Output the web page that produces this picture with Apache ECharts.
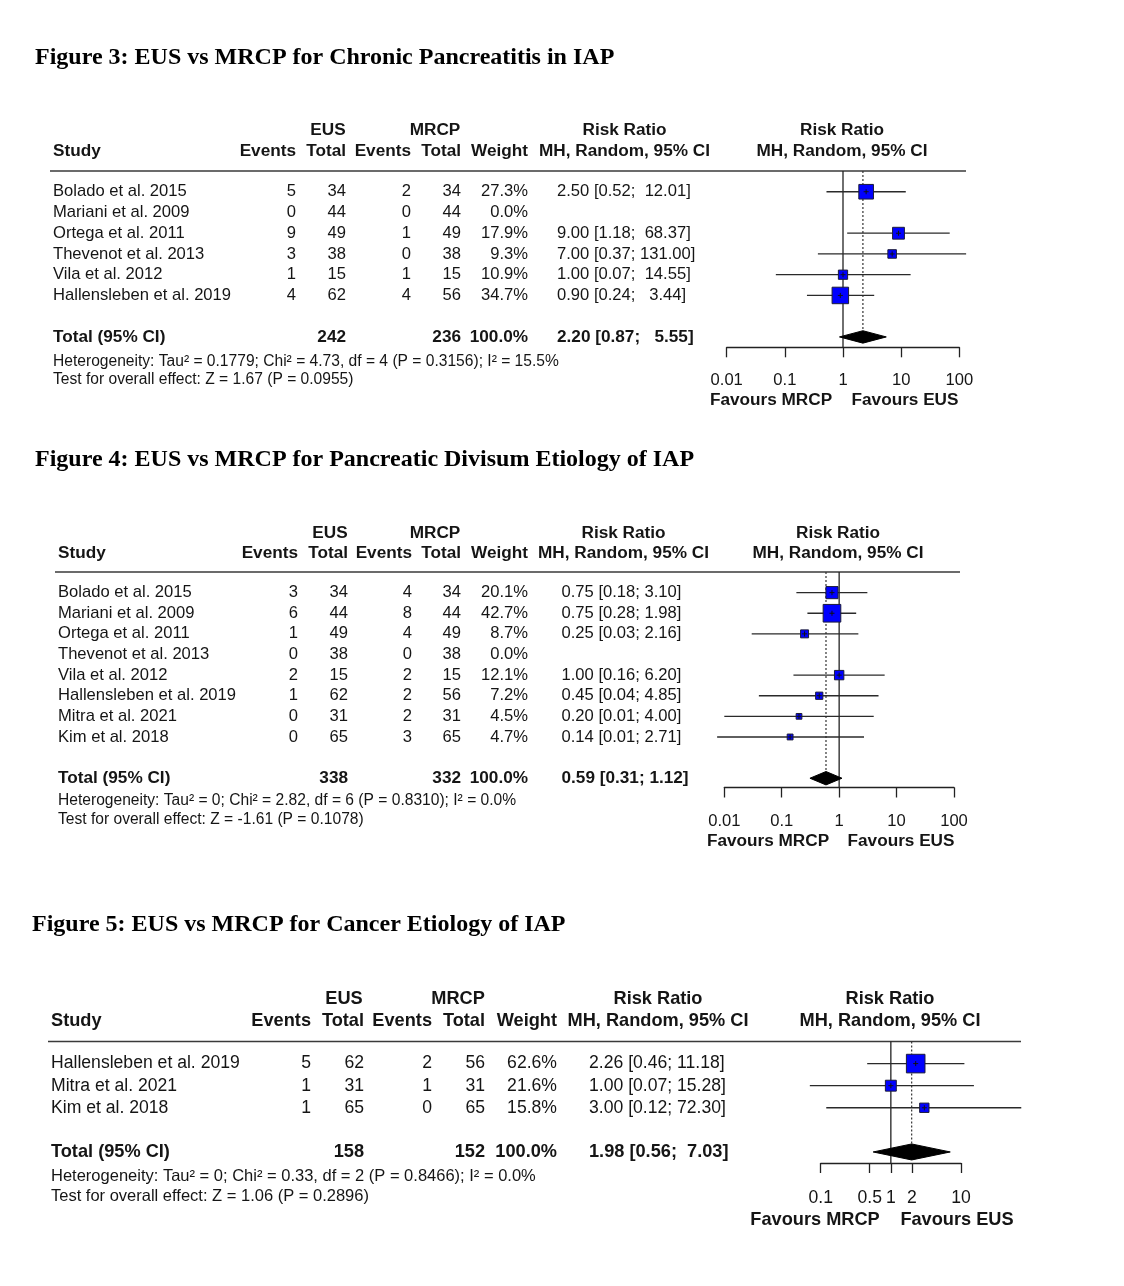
<!DOCTYPE html>
<html><head><meta charset="utf-8">
<script src="https://cdn.jsdelivr.net/npm/echarts@6/dist/echarts.min.js"></script>
<style>html,body{margin:0;padding:0;background:#fff}#c{width:1124px;height:1286px}</style>
</head><body><div id="c"></div>
<script>
// ---------------- DATA ----------------
const TITLES = [
  'Figure 3: EUS vs MRCP for Chronic Pancreatitis in IAP',
  'Figure 4: EUS vs MRCP for Pancreatic Divisum Etiology of IAP',
  'Figure 5: EUS vs MRCP for Cancer Etiology of IAP'
];
const GROUP_HEADERS = ['EUS', 'MRCP', 'Risk Ratio'];
const COL_HEADERS = ['Events', 'Total', 'Events', 'Total', 'Weight'];
const STUDY_HEADER = 'Study';
const RR_HEADER = 'MH, Random, 95% CI';
const FOREST_HEADER = ['Risk Ratio', 'MH, Random, 95% CI'];
const FAVOURS = ['Favours MRCP', 'Favours EUS'];
const TOTAL_LABEL = 'Total (95% CI)';

// Figure 3
const f3Studies = ['Bolado et al. 2015', 'Mariani et al. 2009', 'Ortega et al. 2011', 'Thevenot et al. 2013', 'Vila et al. 2012', 'Hallensleben et al. 2019'];
const f3EusEvents = [5, 0, 9, 3, 1, 4];
const f3EusTotal = [34, 44, 49, 38, 15, 62];
const f3MrcpEvents = [2, 0, 1, 0, 1, 4];
const f3MrcpTotal = [34, 44, 49, 38, 15, 56];
const f3Weight = [27.3, 0.0, 17.9, 9.3, 10.9, 34.7];
const f3RR = [2.50, null, 9.00, 7.00, 1.00, 0.90];
const f3Lower = [0.52, null, 1.18, 0.37, 0.07, 0.24];
const f3Upper = [12.01, null, 68.37, 131.00, 14.55, 3.44];
const f3Pooled = [2.20, 0.87, 5.55];
const f3Totals = [242, 236];
const f3TotalWeight = 100.0;
const f3Het = 'Heterogeneity: Tau² = 0.1779; Chi² = 4.73, df = 4 (P = 0.3156); I² = 15.5%';
const f3Test = 'Test for overall effect: Z = 1.67 (P = 0.0955)';
const f3Ticks = [0.01, 0.1, 1, 10, 100];

// Figure 4
const f4Studies = ['Bolado et al. 2015', 'Mariani et al. 2009', 'Ortega et al. 2011', 'Thevenot et al. 2013', 'Vila et al. 2012', 'Hallensleben et al. 2019', 'Mitra et al. 2021', 'Kim et al. 2018'];
const f4EusEvents = [3, 6, 1, 0, 2, 1, 0, 0];
const f4EusTotal = [34, 44, 49, 38, 15, 62, 31, 65];
const f4MrcpEvents = [4, 8, 4, 0, 2, 2, 2, 3];
const f4MrcpTotal = [34, 44, 49, 38, 15, 56, 31, 65];
const f4Weight = [20.1, 42.7, 8.7, 0.0, 12.1, 7.2, 4.5, 4.7];
const f4RR = [0.75, 0.75, 0.25, null, 1.00, 0.45, 0.20, 0.14];
const f4Lower = [0.18, 0.28, 0.03, null, 0.16, 0.04, 0.01, 0.0075];
const f4Upper = [3.10, 1.98, 2.16, null, 6.20, 4.85, 4.00, 2.71];
const f4Pooled = [0.59, 0.31, 1.12];
const f4Totals = [338, 332];
const f4TotalWeight = 100.0;
const f4Het = 'Heterogeneity: Tau² = 0; Chi² = 2.82, df = 6 (P = 0.8310); I² = 0.0%';
const f4Test = 'Test for overall effect: Z = -1.61 (P = 0.1078)';
const f4Ticks = [0.01, 0.1, 1, 10, 100];

// Figure 5
const f5Studies = ['Hallensleben et al. 2019', 'Mitra et al. 2021', 'Kim et al. 2018'];
const f5EusEvents = [5, 1, 1];
const f5EusTotal = [62, 31, 65];
const f5MrcpEvents = [2, 1, 0];
const f5MrcpTotal = [56, 31, 65];
const f5Weight = [62.6, 21.6, 15.8];
const f5RR = [2.26, 1.00, 3.00];
const f5Lower = [0.46, 0.07, 0.12];
const f5Upper = [11.18, 15.28, 72.30];
const f5Pooled = [1.98, 0.56, 7.03];
const f5Totals = [158, 152];
const f5TotalWeight = 100.0;
const f5Het = 'Heterogeneity: Tau² = 0; Chi² = 0.33, df = 2 (P = 0.8466); I² = 0.0%';
const f5Test = 'Test for overall effect: Z = 1.06 (P = 0.2896)';
const f5Ticks = [0.1, 0.5, 1, 2, 10];

const FIGS = [
  {studies: f3Studies, ee: f3EusEvents, et: f3EusTotal, me: f3MrcpEvents, mt: f3MrcpTotal, w: f3Weight, rr: f3RR, lo: f3Lower, hi: f3Upper, pooled: f3Pooled, totals: f3Totals, tw: f3TotalWeight, het: f3Het, test: f3Test, ticks: f3Ticks},
  {studies: f4Studies, ee: f4EusEvents, et: f4EusTotal, me: f4MrcpEvents, mt: f4MrcpTotal, w: f4Weight, rr: f4RR, lo: f4Lower, hi: f4Upper, pooled: f4Pooled, totals: f4Totals, tw: f4TotalWeight, het: f4Het, test: f4Test, ticks: f4Ticks},
  {studies: f5Studies, ee: f5EusEvents, et: f5EusTotal, me: f5MrcpEvents, mt: f5MrcpTotal, w: f5Weight, rr: f5RR, lo: f5Lower, hi: f5Upper, pooled: f5Pooled, totals: f5Totals, tw: f5TotalWeight, het: f5Het, test: f5Test, ticks: f5Ticks}
];

// ---------------- LAYOUT (positions / styles) ----------------
const LAYOUT = [
  {grid: {left: 726.7, top: 171, width: 232.6, height: 176.3}, yMax: 7.5, totalIdx: 7,
   studyX: 53, cols: [296, 346, 411, 461, 528], rrLeft: 557, rrHdrX: 624.5,
   groupX: [328, 435, 624.5], groupY: -41, colY: -20, forestHdrX: 842,
   lineX: [50, 966], hetDy: 24.5, testDy: 42.5, fav: [771, 905], favDy: 53, labelMargin: 24.5,
   fs: 16.6, fsB: 17.2, fsS: 15.6, boxK: 2.8, dh: 6.2, title: [35, 55]},
  {grid: {left: 724.3, top: 572, width: 229.7, height: 215.5}, yMax: 9.45, totalIdx: 9,
   studyX: 58, cols: [298, 348, 412, 461, 528], rrLeft: 561.5, rrHdrX: 623.5,
   groupX: [330, 435, 623.5], groupY: -39, colY: -19, forestHdrX: 838,
   lineX: [55, 960], hetDy: 22.5, testDy: 41.5, fav: [768, 901], favDy: 53.5, labelMargin: 25,
   fs: 16.6, fsB: 17.2, fsS: 15.6, boxK: 2.7, dh: 6.7, title: [35, 457]},
  {grid: {left: 820.7, top: 1041.5, width: 140.3, height: 121.5}, yMax: 4.5, totalIdx: 4,
   studyX: 51, cols: [311, 364, 432, 485, 557], rrLeft: 589, rrHdrX: 658,
   groupX: [344, 458, 658], groupY: -42.5, colY: -20.5, forestHdrX: 890,
   lineX: [48, 1021], hetDy: 24.5, testDy: 44.5, fav: [815, 957], favDy: 57, labelMargin: 26,
   fs: 17.6, fsB: 18.2, fsS: 16.5, boxK: 2.35, dh: 8, title: [32, 922]}
];

const FONT = '"Liberation Sans", Arial, sans-serif';
const INK = '#151515';

function T(x, y, s, align, size, bold) {
  return {type: 'text', x: x, y: y, silent: true,
    style: {text: s, fill: INK, fontSize: size, fontFamily: FONT, fontWeight: bold ? 'bold' : 'normal',
      align: align, verticalAlign: 'middle', textAlign: align, textVerticalAlign: 'middle'}};
}
function L2(x1, y1, x2, y2, stroke, w, dash) {
  return {type: 'line', silent: true, shape: {x1: x1, y1: y1, x2: x2, y2: y2},
    style: {stroke: stroke, lineWidth: w, lineDash: dash || null}};
}
function fmtRR(est, lo, hi, width) {
  return est.toFixed(2) + ' [' + lo.toFixed(2) + '; ' + hi.toFixed(2).padStart(width, ' ') + ']';
}

const grids = [], xAxes = [], yAxes = [], series = [], graphics = [];

FIGS.forEach(function (d, fi) {
  const L = LAYOUT[fi];
  const hiWidth = Math.max.apply(null, d.hi.filter(function (v) { return v != null; }).map(function (v) { return v.toFixed(2).length; }));
  graphics.push({type: 'text', left: L.title[0], top: L.title[1] - 9.5,
    style: {text: TITLES[fi], fill: '#000', font: 'bold 24px "Liberation Serif", "Times New Roman", serif'}});
  grids.push(Object.assign({containLabel: false}, L.grid));
  xAxes.push({
    type: 'log', logBase: 10, gridIndex: fi, min: d.ticks[0], max: d.ticks[d.ticks.length - 1],
    axisLine: {show: true, onZero: false, lineStyle: {color: '#222', width: 1.3}},
    axisTick: {show: true, length: 10, lineStyle: {color: '#222', width: 1.3}, customValues: d.ticks},
    axisLabel: {show: true, margin: L.labelMargin, fontSize: L.fs, fontFamily: FONT, color: INK,
      customValues: d.ticks, formatter: function (v) { return String(+Number(v).toPrecision(4)); }},
    splitLine: {show: false}, minorTick: {show: false}
  });
  yAxes.push({type: 'value', gridIndex: fi, inverse: true, min: -1, max: L.yMax, show: false});

  // pooled / header / footer series
  series.push({
    type: 'custom', xAxisIndex: fi, yAxisIndex: fi, silent: true, clip: false, animation: false,
    data: [[d.pooled[0], L.totalIdx]], encode: {x: 0, y: 1},
    renderItem: function (params, api) {
      const est = d.pooled[0], lo = d.pooled[1], hi = d.pooled[2];
      const yTop = api.coord([1, -1])[1];
      const yAx = api.coord([1, L.yMax])[1];
      const c = api.coord([est, L.totalIdx]);
      const yT = c[1];
      const x1 = api.coord([1, 0])[0];
      const ch = [];
      ch.push(L2(L.lineX[0], yTop, L.lineX[1], yTop, '#3a3a3a', 1.6));
      ch.push(L2(x1, yTop, x1, yAx, '#222', 1.3));
      ch.push(L2(c[0], yTop, c[0], yT - L.dh, '#333', 1.2, [2, 2]));
      const pl = api.coord([lo, L.totalIdx])[0], ph = api.coord([hi, L.totalIdx])[0];
      ch.push({type: 'polygon', silent: true, shape: {points: [[pl, yT], [c[0], yT - L.dh], [ph, yT], [c[0], yT + L.dh]]},
        style: {fill: '#000', stroke: '#000', lineWidth: 1}});
      ch.push(T(L.groupX[0], yTop + L.groupY, GROUP_HEADERS[0], 'center', L.fsB, true));
      ch.push(T(L.groupX[1], yTop + L.groupY, GROUP_HEADERS[1], 'center', L.fsB, true));
      ch.push(T(L.groupX[2], yTop + L.groupY, GROUP_HEADERS[2], 'center', L.fsB, true));
      ch.push(T(L.forestHdrX, yTop + L.groupY, FOREST_HEADER[0], 'center', L.fsB, true));
      ch.push(T(L.studyX, yTop + L.colY, STUDY_HEADER, 'left', L.fsB, true));
      COL_HEADERS.forEach(function (h, k) { ch.push(T(L.cols[k], yTop + L.colY, h, 'right', L.fsB, true)); });
      ch.push(T(L.rrHdrX, yTop + L.colY, RR_HEADER, 'center', L.fsB, true));
      ch.push(T(L.forestHdrX, yTop + L.colY, FOREST_HEADER[1], 'center', L.fsB, true));
      ch.push(T(L.studyX, yT, TOTAL_LABEL, 'left', L.fsB, true));
      ch.push(T(L.cols[1], yT, String(d.totals[0]), 'right', L.fsB, true));
      ch.push(T(L.cols[3], yT, String(d.totals[1]), 'right', L.fsB, true));
      ch.push(T(L.cols[4], yT, d.tw.toFixed(1) + '%', 'right', L.fsB, true));
      ch.push(T(L.rrLeft, yT, fmtRR(est, lo, hi, hiWidth), 'left', L.fsB, true));
      ch.push(T(L.studyX, yT + L.hetDy, d.het, 'left', L.fsS, false));
      ch.push(T(L.studyX, yT + L.testDy, d.test, 'left', L.fsS, false));
      ch.push(T(L.fav[0], yAx + L.favDy, FAVOURS[0], 'center', L.fsB, true));
      ch.push(T(L.fav[1], yAx + L.favDy, FAVOURS[1], 'center', L.fsB, true));
      return {type: 'group', children: ch};
    }
  });

  // study rows
  series.push({
    type: 'custom', xAxisIndex: fi, yAxisIndex: fi, silent: true, clip: false, animation: false,
    data: d.studies.map(function (s, i) { return [1, i]; }), encode: {x: 0, y: 1},
    renderItem: function (params, api) {
      const i = api.value(1);
      const y = api.coord([1, i])[1];
      const ch = [];
      ch.push(T(L.studyX, y, d.studies[i], 'left', L.fs, false));
      const vals = [d.ee[i], d.et[i], d.me[i], d.mt[i], d.w[i].toFixed(1) + '%'];
      vals.forEach(function (v, k) { ch.push(T(L.cols[k], y, String(v), 'right', L.fs, false)); });
      if (d.rr[i] != null) {
        ch.push(T(L.rrLeft, y, fmtRR(d.rr[i], d.lo[i], d.hi[i], hiWidth), 'left', L.fs, false));
        const p0 = api.coord([d.lo[i], i])[0], p1 = api.coord([d.hi[i], i])[0], pc = api.coord([d.rr[i], i])[0];
        ch.push(L2(p0, y, p1, y, '#2a2a2a', 1.3));
        const s = L.boxK * Math.sqrt(d.w[i]);
        ch.push({type: 'rect', silent: true, shape: {x: pc - s / 2, y: y - s / 2, width: s, height: s},
          style: {fill: '#0000ff', stroke: '#1c1c3a', lineWidth: 1}});
        ch.push(L2(pc - 2.5, y, pc + 2.5, y, '#111', 1));
        ch.push(L2(pc, y - 2.5, pc, y + 2.5, '#111', 1));
      }
      return {type: 'group', children: ch};
    }
  });
});

const chart = echarts.init(document.getElementById('c'), null, {renderer: 'canvas'});
chart.setOption({
  backgroundColor: '#ffffff',
  animation: false,
  grid: grids, xAxis: xAxes, yAxis: yAxes, series: series, graphic: graphics
});
</script>
</body></html>
